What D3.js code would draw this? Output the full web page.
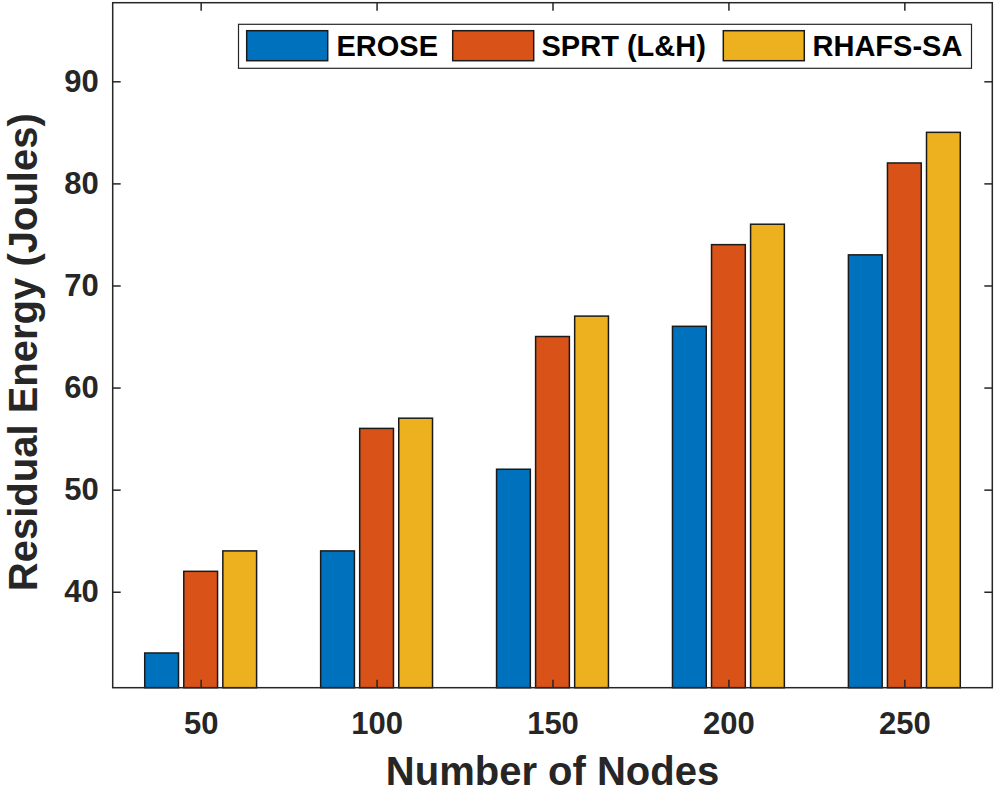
<!DOCTYPE html>
<html>
<head>
<meta charset="utf-8">
<script src="https://d3js.org/d3.v7.min.js"></script>
<style>
  html, body { margin: 0; padding: 0; background: #fff; }
  svg { display: block; }
  text { font-family: "Liberation Sans", Arial, Helvetica, sans-serif; font-weight: bold; }
</style>
</head>
<body>
<svg id="chart" width="996" height="791"></svg>
<script>
// ---- data ----
const categories = [50, 100, 150, 200, 250];
const seriesNames = ["EROSE", "SPRT (L&H)", "RHAFS-SA"];
const erose = [34, 44, 52, 66, 73];
const sprt = [42, 56, 65, 74, 82];
const rhafs = [44, 57, 67, 76, 85];
const yTicks = [40, 50, 60, 70, 80, 90];
const xLabel = "Number of Nodes";
const yLabel = "Residual Energy (Joules)";

const seriesValues = [erose, sprt, rhafs];
const colors = ["#0072BD", "#D95319", "#EDB120"];

// ---- layout ----
const svg = d3.select("#chart");
const L = 112.7, R = 992.3, T = 2.7, B = 687.7;
const axisColor = "#262626";

const x = d3.scaleLinear().domain([25, 275]).range([L, R]);
const y = d3.scaleLinear().domain([30.6, 97.7]).range([B, T]);

const groupStep = 11.1;  // data units between bars in a group
const barW = 9.6;        // data units

// bars
const g = svg.append("g");
seriesValues.forEach((vals, si) => {
  g.selectAll(null)
    .data(categories.map((c, i) => ({ c, v: vals[i] })))
    .enter()
    .append("rect")
    .attr("x", d => x(d.c + (si - 1) * groupStep - barW / 2))
    .attr("width", d => x(d.c + barW / 2) - x(d.c - barW / 2))
    .attr("y", d => y(d.v))
    .attr("height", d => y(y.domain()[0]) - y(d.v))
    .attr("fill", colors[si])
    .attr("stroke", "#1a1a1a")
    .attr("stroke-width", 1.5);
});

// axes
const tickLen = 8;
const yAxisL = d3.axisLeft(y).tickValues(yTicks).tickSize(-tickLen).tickPadding(14);
const yAxisR = d3.axisRight(y).tickValues(yTicks).tickSize(-tickLen).tickFormat("");
const xAxisB = d3.axisBottom(x).tickValues(categories).tickSize(-tickLen).tickPadding(24);
const xAxisT = d3.axisTop(x).tickValues(categories).tickSize(-tickLen).tickFormat("");

function styleAxis(sel) {
  sel.select(".domain").remove();
  sel.selectAll(".tick line").attr("stroke", axisColor).attr("stroke-width", 1.5);
  sel.selectAll(".tick text").attr("fill", axisColor).style("font-size", "31px")
     .style("font-family", '"Liberation Sans", Arial, sans-serif').style("font-weight", "bold");
}

svg.append("g").attr("transform", `translate(${L},0)`).call(yAxisL).call(styleAxis);
svg.append("g").attr("transform", `translate(${R},0)`).call(yAxisR).call(styleAxis);
svg.append("g").attr("transform", `translate(0,${B})`).call(xAxisB).call(styleAxis);
svg.append("g").attr("transform", `translate(0,${T})`).call(xAxisT).call(styleAxis);

// axis box
svg.append("rect")
  .attr("x", L).attr("y", T).attr("width", R - L).attr("height", B - T)
  .attr("fill", "none").attr("stroke", axisColor).attr("stroke-width", 1.5);

// axis labels
svg.append("text")
  .attr("x", (L + R) / 2).attr("y", 784.5)
  .attr("text-anchor", "middle")
  .attr("fill", axisColor)
  .style("font-size", "40px")
  .text(xLabel);

svg.append("text")
  .attr("transform", `translate(36.5,${(T + B) / 2 + 7}) rotate(-90)`)
  .attr("text-anchor", "middle")
  .attr("fill", axisColor)
  .style("font-size", "40px")
  .text(yLabel);

// legend
const leg = svg.append("g");
leg.append("rect")
  .attr("x", 238.5).attr("y", 24.3).attr("width", 733).attr("height", 44)
  .attr("fill", "#fff").attr("stroke", axisColor).attr("stroke-width", 1.2);
const legItems = [
  { px: 246.7, tx: 336.5 },
  { px: 452.7, tx: 541.5 },
  { px: 723.3, tx: 812.5 }
];
seriesNames.forEach((name, i) => {
  leg.append("rect")
    .attr("x", legItems[i].px).attr("y", 30.7)
    .attr("width", 81).attr("height", 30)
    .attr("fill", colors[i]).attr("stroke", "#1a1a1a").attr("stroke-width", 1.5);
  leg.append("text")
    .attr("x", legItems[i].tx).attr("y", 56)
    .attr("fill", "#000")
    .style("font-size", "29px")
    .text(name);
});
</script>
</body>
</html>
